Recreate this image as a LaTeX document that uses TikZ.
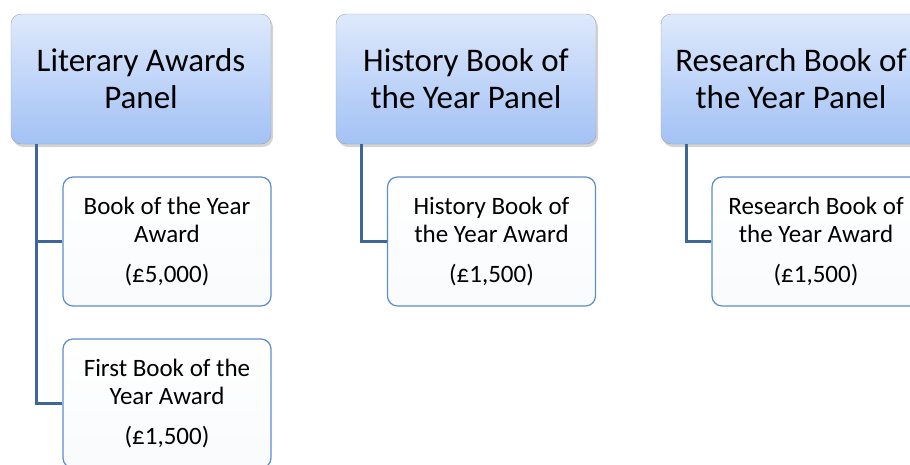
\documentclass[tikz,border=0pt]{standalone}
\usepackage{fontspec}
\setmainfont{Carlito}
\usetikzlibrary{shadows}

\definecolor{panelTop}{HTML}{DEE9FC}
\definecolor{panelBottom}{HTML}{A3C2F5}
\definecolor{panelLine}{HTML}{A0A4AA}
\definecolor{awardLine}{HTML}{5B8DCB}
\definecolor{linkBlue}{HTML}{3E6698}

\begin{document}
\begin{tikzpicture}[x=1pt,y=-1pt]
  \useasboundingbox (0,0) rectangle (910,464);
  \clip (0,0) rectangle (910,464);

      \begin{scope}[every node/.style={draw=panelLine, rounded corners=10pt,
          top color=panelTop, bottom color=panelBottom,
          minimum width=260pt, minimum height=130pt, align=center,
          drop shadow={shadow xshift=2pt, shadow yshift=-3pt, opacity=.35},
          font=\fontsize{33}{37}\selectfont}]
        \node (1) at (141,79)  {Literary Awards\\Panel};
        \node (2) at (466,79)  {History Book of\\the Year Panel};
        \node (3) at (791,79)  {Research Book of\\the Year Panel};
      \end{scope}

      \begin{scope}[every node/.style={draw=awardLine, line width=1.2pt,
          rounded corners=10pt, top color=white, bottom color=white!96!awardLine,
          minimum width=208pt, minimum height=129pt, align=center,
          font=\fontsize{25}{28}\selectfont}]
        \node (4) at (167,241.5)   {Book of the Year\\Award\\[12pt](£5,000)};
        \node (5) at (167,403.5)   {First Book of the\\Year Award\\[12pt](£1,500)};
        \node (6) at (491.5,241.5) {History Book of\\the Year Award\\[12pt](£1,500)};
        \node (7) at (816,241.5)   {Research Book of\\the Year Award\\[12pt](£1,500)};
      \end{scope}

      \begin{scope}[every edge/.style={draw=linkBlue, line width=3.2pt,
          to path={|- (\tikztotarget)}}]
        \path ([xshift=26pt]1.south west) edge (4.west);
        \path ([xshift=26pt]1.south west) edge (5.west);
        \path ([xshift=26pt]2.south west) edge (6.west);
        \path ([xshift=26pt]3.south west) edge (7.west);
      \end{scope}

    \end{tikzpicture}
\end{document}
